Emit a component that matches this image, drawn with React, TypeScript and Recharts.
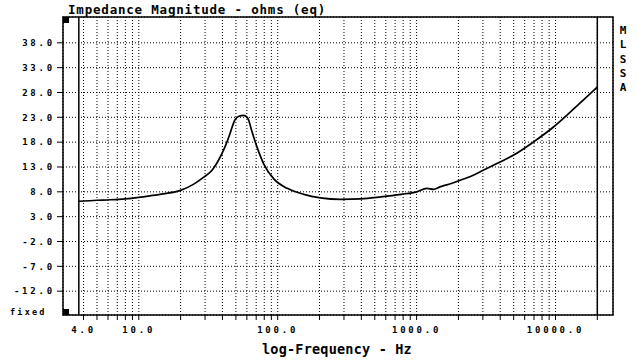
import React from "react";
import {
  LineChart,
  Line,
  XAxis,
  YAxis,
  CartesianGrid,
  ReferenceArea,
  ReferenceLine,
} from "recharts";

// impedance sweep
const freqHz = [
  3.7, 5, 6.2, 8, 10, 12, 15, 20, 24.7, 29.2, 33.8, 36.7, 42.1, 45.7, 48.3,
  52.5, 57, 60.9, 65.5, 71.2, 79.4, 93.7, 117, 154, 203, 284, 397, 554, 773,
  1000, 1185, 1325, 1471, 1650, 2000, 2440, 2855, 3980, 5000, 6905, 9620,
  13400, 20000,
];
const ohms = [
  6.1, 6.3, 6.4, 6.6, 6.9, 7.2, 7.6, 8.3, 9.5, 10.9, 12.4, 13.9, 17.3, 20.0,
  22.0, 23.2, 23.4, 22.8, 20.0, 16.9, 13.6, 10.6, 8.7, 7.5, 6.8, 6.5, 6.6, 7.0,
  7.5, 8.0, 8.7, 8.5, 9.0, 9.4, 10.2, 11.1, 12.0, 14.0, 15.4, 18.0, 21.0, 24.6,
  29.1,
];

const xTicks = [
  4, 5, 6, 7, 8, 9, 10, 20, 30, 40, 50, 60, 70, 80, 90, 100, 200, 300, 400,
  500, 600, 700, 800, 900, 1000, 2000, 3000, 4000, 5000, 6000, 7000, 8000,
  9000, 10000, 20000,
];
const xLabelled = [4, 10, 100, 1000, 10000];
const yTicks = [-12, -7, -2, 3, 8, 13, 18, 23, 28, 33, 38];

const X_DOMAIN: [number, number] = [2.846, 25940];
const Y_DOMAIN: [number, number] = [-16.8, 43.2];
const SWEEP_START = 3.7;
const SWEEP_END = 20000;

const data = freqHz.map((f, i) => ({ f, z: ohms[i] }));

const mono = "'DejaVu Sans Mono', monospace";

const tickStyle = {
  fill: "#000",
  fontSize: 9,
  fontFamily: mono,
  fontWeight: "bold",
  letterSpacing: 2.8,
};

export default function App() {
  return (
    <div
      style={{
        position: "absolute",
        left: 0,
        top: 0,
        width: 637,
        height: 363,
        background: "#fff",
      }}
    >
      <LineChart
        width={637}
        height={363}
        data={data}
        margin={{ top: 17, right: 24, bottom: 0, left: 0 }}
      >
        <CartesianGrid stroke="#000" strokeDasharray="1 2" strokeWidth={1} />
        <XAxis
          dataKey="f"
          type="number"
          scale="log"
          domain={X_DOMAIN}
          allowDataOverflow
          ticks={xTicks}
          interval={0}
          height={48}
          tickSize={5}
          tickMargin={7}
          axisLine={false}
          tickLine={{ stroke: "#000" }}
          tick={tickStyle}
          tickFormatter={(v: number) =>
            xLabelled.includes(v) ? v.toFixed(1) : ""
          }
        />
        <YAxis
          type="number"
          domain={Y_DOMAIN}
          allowDataOverflow
          ticks={yTicks}
          interval={0}
          width={63}
          tickSize={6}
          tickMargin={2}
          axisLine={false}
          tickLine={{ stroke: "#000" }}
          tick={tickStyle}
          tickFormatter={(v: number) => v.toFixed(1)}
        />
        <ReferenceArea
          x1={X_DOMAIN[0]}
          x2={X_DOMAIN[1]}
          y1={Y_DOMAIN[0]}
          y2={Y_DOMAIN[1]}
          fill="none"
          fillOpacity={0}
          stroke="#000"
          strokeWidth={1.5}
          ifOverflow="visible"
        />
        <ReferenceLine x={SWEEP_START} stroke="#000" strokeWidth={1.5} />
        <ReferenceLine x={SWEEP_END} stroke="#000" strokeWidth={1.5} />
        <Line
          dataKey="z"
          type="monotone"
          stroke="#000"
          strokeWidth={1.7}
          dot={false}
          isAnimationActive={false}
        />
      </LineChart>

      <svg
        width={637}
        height={363}
        style={{ position: "absolute", left: 0, top: 0, pointerEvents: "none" }}
        fontFamily={mono}
        fontWeight="bold"
      >
        <text x={68} y={13.5} fontSize={12.5} letterSpacing={0.8} fill="#000">
          Impedance Magnitude - ohms (eq)
        </text>
        <text
          x={337}
          y={353.5}
          fontSize={13.5}
          letterSpacing={0.2}
          textAnchor="middle"
          fill="#000"
        >
          log-Frequency - Hz
        </text>
        <text x={10} y={315} fontSize={8.5} letterSpacing={2.2} fill="#000">
          fixed
        </text>
        {["M", "L", "S", "S", "A"].map((c, i) => (
          <text
            key={i}
            x={623}
            y={34 + i * 14.3}
            fontSize={11}
            textAnchor="middle"
            fill="#000"
          >
            {c}
          </text>
        ))}
        <rect x={63} y={17} width={6} height={6} fill="#000" />
        <rect x={63} y={309} width={6} height={6} fill="#000" />
      </svg>
    </div>
  );
}
